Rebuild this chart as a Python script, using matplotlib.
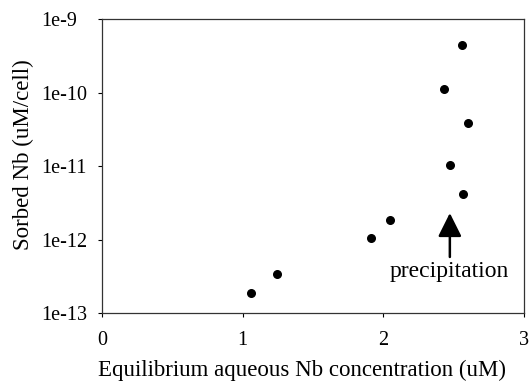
import numpy as np
import matplotlib.pyplot as plt
from matplotlib.ticker import FixedLocator, FixedFormatter, NullLocator

plt.rcParams['font.family'] = ['Liberation Serif', 'DejaVu Serif']

# Equilibrium aqueous Nb (uM) vs sorbed Nb (uM/cell)
conc = [1.057, 1.242, 1.914, 2.049, 2.431, 2.556, 2.603, 2.473, 2.568]
sorbed = [1.90e-13, 3.44e-13, 1.06e-12, 1.87e-12, 1.13e-10, 4.45e-10,
          3.86e-11, 1.03e-11, 4.24e-12]

ytick_vals = [1e-13, 1e-12, 1e-11, 1e-10, 1e-9]
ytick_labels = ['1e-13', '1e-12', '1e-11', '1e-10', '1e-9']
xtick_vals = [0, 1, 2, 3]

fig = plt.figure(figsize=(5.29, 3.83), dpi=100)
ax = fig.add_axes([0.1928, 0.1828, 0.7977, 0.7663])

ax.scatter(conc, sorbed, s=30, color='black', zorder=3)

ax.set_yscale('log')
ax.set_xlim(0, 3)
ax.set_ylim(1e-13, 1e-9)
ax.yaxis.set_major_locator(FixedLocator(ytick_vals))
ax.yaxis.set_major_formatter(FixedFormatter(ytick_labels))
ax.yaxis.set_minor_locator(NullLocator())
ax.set_xticks(xtick_vals)
ax.set_xticklabels([str(v) for v in xtick_vals])

ax.tick_params(axis='x', direction='out', length=3, width=0.8,
               labelsize=14.5, pad=10)
ax.tick_params(axis='y', direction='out', length=3, width=0.8,
               labelsize=14.5, pad=41)
for lab in ax.get_yticklabels():
    lab.set_horizontalalignment('left')
    lab.set_fontsize(14.5)
for lab in ax.get_xticklabels():
    lab.set_fontsize(14.5)
for sp in ax.spines.values():
    sp.set_linewidth(0.9)
    sp.set_color('#333333')

ax.set_xlabel('Equilibrium aqueous Nb concentration (uM)', fontsize=16.5)
ax.xaxis.set_label_coords(0.474, -0.16)
ax.set_ylabel('Sorbed Nb (uM/cell)', fontsize=16.5)
ax.yaxis.set_label_coords(-0.16, 0.54)

ax.annotate('', xy=(2.473, 2.3e-12), xytext=(2.473, 5.8e-13),
            arrowprops=dict(arrowstyle='-|>', color='black', lw=1.8,
                            mutation_scale=36, shrinkA=0, shrinkB=0))
ax.text(2.47, 3.1e-13, 'precipitation', ha='center', va='baseline', fontsize=17)

fig.savefig('out.png', dpi=100)
plt.close(fig)
